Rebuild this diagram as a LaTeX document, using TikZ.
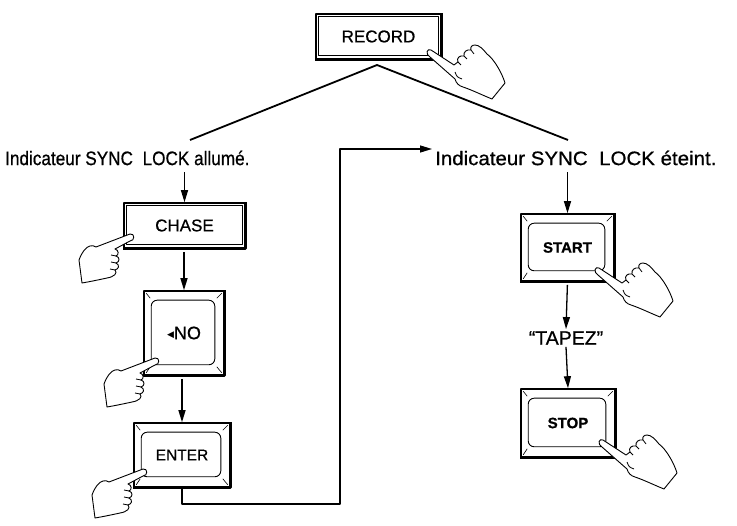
\documentclass[tikz,border=0pt]{standalone}
\usepackage{fontspec}
\setmainfont{Liberation Sans}[RawFeature={embolden=0.7}]
\newfontfamily\symfont{DejaVu Sans}
\usetikzlibrary{arrows.meta,positioning}

\tikzset{
  keycap/.style={draw, line width=1.6pt, fill=white, inner sep=0pt},
  padkey/.style={keycap, font=\fontsize{15}{15}\selectfont\bfseries},
  msg/.style={font=\fontsize{19.5}{20}\selectfont, inner sep=2pt},
  flow/.style={->, line width=1.3pt},
  % pointing hand, finger tip at the origin, palm to the lower right
  righthand/.pic={
    \draw[fill=white, line width=0.9pt]
      (24,12) -- (1,-3) .. controls (-3,-5) and (-5,1) .. (0,4)
      -- (25,26) .. controls (26,30) and (29,33) .. (33,34)
      .. controls (42,37) and (52,42) .. (62,46)
      -- (75,30) .. controls (72,20) and (64,6) .. (57,1)
      .. controls (53,-4) and (49,-8) .. (45,-8)
      .. controls (42,-8) and (40,-6) .. (41,-3)
      .. controls (37,-4) and (33,-1) .. (34,3)
      .. controls (30,2) and (26,5) .. (28,9)
      .. controls (27,10) and (25,11) .. (24,12) -- cycle;
    \draw[line width=0.8pt] (41,-3) -- (44,1) (34,3) -- (37,6) (28,9) -- (31,12);
    \draw[line width=0.8pt] (25,19) .. controls (27,24) .. (32,26);
  },
  % pointing hand, finger tip at the origin, palm to the lower left
  lefthand/.pic={
    \draw[fill=white, line width=0.9pt]
      (0,-4) .. controls (5,-5) and (5,3) .. (0,3)
      -- (-15,11) .. controls (-11,12) and (-11,17) .. (-14,18)
      .. controls (-10,19) and (-10,24) .. (-14,25)
      .. controls (-10,27) and (-11,31) .. (-15,32)
      .. controls (-12,35) and (-16,39) .. (-23,40)
      .. controls (-32,42) and (-42,44) .. (-48,45)
      -- (-51,22) .. controls (-48,14) and (-44,9) .. (-40,8)
      .. controls (-38,7) and (-36,8) .. (-34,9) -- cycle;
    \draw[line width=0.8pt] (-14,18) -- (-19,17) (-14,25) -- (-19,24) (-15,32) -- (-20,31);
  }
}

\begin{document}
\begin{tikzpicture}[x=1pt, y=-1pt, >={Triangle[length=12pt,width=7pt]}, line join=round]
  \useasboundingbox (0,0) rectangle (737,526);

  % flat keys
  \node (record) [keycap, minimum width=125pt, minimum height=45pt,
    font=\fontsize{17}{17}\selectfont] at (378.5,36.5) {RECORD};
  \node (chase) [keycap, minimum width=121pt, minimum height=45pt,
    font=\fontsize{17}{17}\selectfont] at (184.5,225.5) {CHASE};
  \foreach \k in {record,chase} {
    \draw[line width=0.6pt] ([shift={(3.5pt,-3.5pt)}]\k.north west)
      rectangle ([shift={(-4pt,4pt)}]\k.south east);
    \draw[line width=3pt] (\k.north east) -- (\k.south east) -- (\k.south west);
  }

  % keys with a bevelled top
  \node (no) [padkey, minimum width=80pt, minimum height=84pt,
    font=\fontsize{18}{18}\selectfont] at (184,333)
    {\raisebox{2pt}{\symfont\fontsize{9}{9}\selectfont ◀}NO};
  \node (enter) [padkey, minimum width=96pt, minimum height=64pt,
    font=\fontsize{15.5}{16}\selectfont] at (182,455) {ENTER};
  \node (start) [padkey, minimum width=93pt, minimum height=67pt] at (567.5,247.5) {START};
  \node (stop) [padkey, minimum width=94pt, minimum height=68pt] at (568,423) {STOP};
  \foreach \k in {no,enter,start,stop} {
    \draw[line width=0.9pt, rounded corners=6pt] ([shift={(8pt,-10pt)}]\k.north west)
      rectangle ([shift={(-10pt,11pt)}]\k.south east);
    \draw[line width=0.6pt]
      ([shift={(3pt,-3pt)}]\k.north west) -- ([shift={(7pt,-8pt)}]\k.north west)
      ([shift={(-3pt,-3pt)}]\k.north east) -- ([shift={(-8pt,-8pt)}]\k.north east)
      ([shift={(3pt,3pt)}]\k.south west) -- ([shift={(7pt,9pt)}]\k.south west)
      ([shift={(-3pt,3pt)}]\k.south east) -- ([shift={(-8pt,9pt)}]\k.south east);
    \draw[line width=3pt] (\k.north east) -- (\k.south east) -- (\k.south west);
  }

  % status lines
  \node (lockon) [msg, anchor=west] at (3,158)
    {\scalebox{0.88}[1]{Indicateur SYNC\hspace{11pt}LOCK allumé.}};
  \node (lockoff) [msg, anchor=west] at (433,158)
    {\scalebox{1.05}[1]{Indicateur SYNC\hspace{11pt}LOCK éteint.}};
  \node (tapez) [msg] at (566,338) {“TAPEZ”};

  \coordinate (apex) at (377,65);
  \coordinate (onend) at (190,140);
  \coordinate (offend) at (568,140);
  \coordinate (turn) at (340,504);
  \draw[line width=1.8pt] (onend) -- (apex) -- (offend);

  % left branch
  \draw[flow, shorten <=5pt] (lockon.south -| chase.north) -- (chase.north);
  \draw[flow, shorten <=3pt] (chase.south -| no.north) -- (no.north);
  \draw[flow, shorten <=3pt] (no.south -| enter.north) -- (enter.north);
  \draw[line width=1.3pt, ->, shorten >=1pt] (enter.south) |- (turn) |- ([yshift=9pt]lockoff.west);

  % right branch
  \draw[flow, shorten <=5pt] (lockoff.south -| start.north) -- (start.north);
  \draw[flow, shorten <=3pt] (start.south) -- (tapez.north);
  \draw[flow] (tapez.south) -- (stop.north);

  % hands
  \pic at (430,53) {righthand};
  \pic at (598,271) {righthand};
  \pic at (602,443) {righthand};
  \pic at (130,238) {lefthand};
  \pic at (155,362) {lefthand};
  \pic at (143,473) {lefthand};
\end{tikzpicture}
\end{document}
